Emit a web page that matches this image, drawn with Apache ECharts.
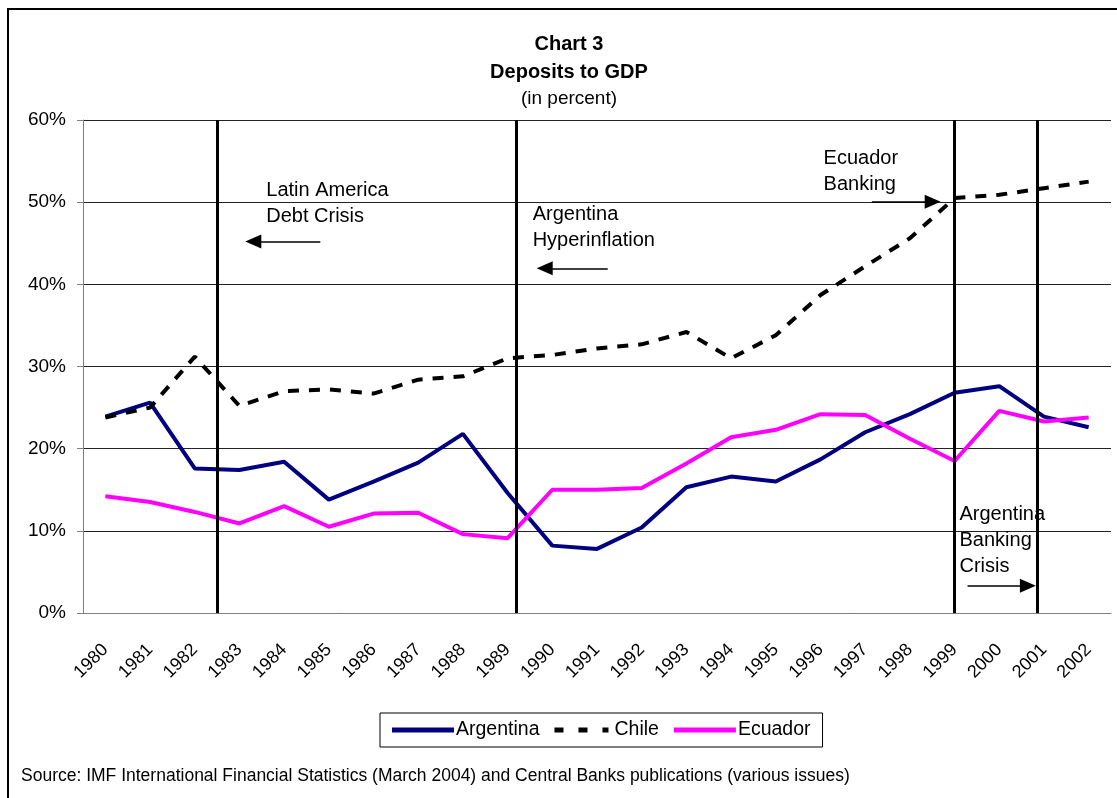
<!DOCTYPE html>
<html>
<head>
<meta charset="utf-8">
<title>Chart 3 - Deposits to GDP</title>
<script src="https://cdn.jsdelivr.net/npm/echarts@6/dist/echarts.min.js"></script>
<style>
  html, body { margin: 0; padding: 0; background: #fff; }
  #chart { width: 1117px; height: 798px; }
</style>
</head>
<body>
<div id="chart"></div>
<script>
// data (percent of GDP)
var years = ['1980', '1981', '1982', '1983', '1984', '1985', '1986', '1987', '1988', '1989', '1990', '1991',
  '1992', '1993', '1994', '1995', '1996', '1997', '1998', '1999', '2000', '2001', '2002'];
var argentina = [23.9, 25.6, 17.6, 17.4, 18.4, 13.8, 16.0, 18.3, 21.8, 14.6, 8.2, 7.8,
  10.4, 15.3, 16.6, 16.0, 18.7, 22.0, 24.2, 26.8, 27.6, 23.9, 22.6];
var chile = [23.8, 25.0, 31.2, 25.2, 27.0, 27.2, 26.7, 28.4, 28.8, 31.0, 31.4, 32.2,
  32.7, 34.2, 31.0, 33.8, 38.7, 42.2, 45.6, 50.5, 50.9, 51.7, 52.5];
var ecuador = [14.2, 13.5, 12.3, 10.9, 13.0, 10.5, 12.1, 12.2, 9.6, 9.1, 15.0, 15.0,
  15.2, 18.2, 21.4, 22.3, 24.2, 24.1, 21.2, 18.5, 24.6, 23.3, 23.8];

// annotations, in category-index units (0 = 1980) and percent
var crisisLines = [2.5, 9.2, 19.0, 20.85];
var notes = [
  [3.6, 53.0, 'Latin America\nDebt Crisis'],
  [9.56, 50.1, 'Argentina\nHyperinflation'],
  [16.07, 56.9, 'Ecuador\nBanking'],
  [19.11, 13.55, 'Argentina\nBanking\nCrisis']
];
// [from, to, level]
var arrows = [
  [4.81, 3.31, 45.2],
  [11.24, 9.83, 41.95],
  [17.15, 18.51, 50.06],
  [19.29, 20.64, 3.33]
];

var font = '"Liberation Sans", Arial, sans-serif';

var myChart = echarts.init(document.getElementById('chart'));

var markData = [];
crisisLines.forEach(function (x) {
  markData.push([
    { coord: [x, 0], symbol: 'none', lineStyle: { width: 3 } },
    { coord: [x, 60], symbol: 'none' }
  ]);
});
arrows.forEach(function (a) {
  markData.push([
    { coord: [a[0], a[2]], symbol: 'none', lineStyle: { width: 1.6 } },
    { coord: [a[1], a[2]], symbol: 'triangle', symbolSize: [14, 16] }
  ]);
});

var lineBase = {
  type: 'line',
  showSymbol: false,
  symbol: 'none',
  silent: true,
  animation: false
};

// legend keys drawn as plain line / dash shapes
var solidKey = 'path://M0,0 L62,0 L62,5 L0,5 Z';
var dashKey = 'path://M0,0 h9 v5 h-9 Z M24,0 h9 v5 h-9 Z M48,0 h6 v5 h-6 Z';

var options = {
  backgroundColor: '#fff',
  animation: false,
  title: {
    text: 'Chart 3\nDeposits to GDP',
    subtext: '(in percent)',
    left: 569,
    top: 30,
    textAlign: 'center',
    itemGap: 1,
    padding: 0,
    textStyle: { fontFamily: font, fontSize: 20, fontWeight: 'bold', color: '#000', lineHeight: 28 },
    subtextStyle: { fontFamily: font, fontSize: 19, color: '#000', lineHeight: 24 }
  },
  legend: {
    data: [
      { name: 'Argentina', icon: solidKey },
      { name: 'Chile', icon: dashKey },
      { name: 'Ecuador', icon: solidKey }
    ],
    left: 380,
    top: 713,
    itemWidth: 62,
    itemHeight: 5,
    itemGap: 15,
    padding: [7, 12, 7, 12],
    borderColor: '#000',
    borderWidth: 1,
    borderRadius: 0,
    selectedMode: false,
    textStyle: { fontFamily: font, fontSize: 19.5, color: '#000', padding: [0, 0, 0, -3] }
  },
  grid: {
    left: 83,
    right: 6,
    top: 120,
    bottom: 185
  },
  xAxis: [
    {
      type: 'category',
      data: years,
      boundaryGap: true,
      axisLine: { lineStyle: { color: '#808080', width: 1 } },
      axisTick: { length: 6, lineStyle: { color: '#808080' } },
      axisLabel: {
        rotate: 45,
        margin: 34,
        interval: 0,
        fontFamily: font,
        fontSize: 18,
        color: '#000'
      },
      splitLine: { show: false }
    },
    {
      type: 'value',
      min: -0.5,
      max: 22.5,
      show: false
    }
  ],
  yAxis: {
    type: 'value',
    min: 0,
    max: 60,
    interval: 10,
    axisLine: { show: true, onZero: false, lineStyle: { color: '#808080' } },
    axisTick: { show: true, length: 6, lineStyle: { color: '#808080' } },
    axisLabel: {
      formatter: '{value}%',
      margin: 17,
      fontFamily: font,
      fontSize: 19,
      color: '#000'
    },
    splitLine: { lineStyle: { color: '#222', width: 1 } }
  },
  series: [
    Object.assign({}, lineBase, {
      name: 'Argentina',
      data: argentina,
      color: '#000080',
      lineStyle: { color: '#000080', width: 4 }
    }),
    Object.assign({}, lineBase, {
      name: 'Chile',
      data: chile,
      color: '#000',
      lineStyle: { color: '#000', width: 4, type: [11, 10], cap: 'butt' }
    }),
    Object.assign({}, lineBase, {
      name: 'Ecuador',
      data: ecuador,
      color: '#ff00ff',
      lineStyle: { color: '#ff00ff', width: 4 }
    }),
    {
      name: 'notes',
      type: 'scatter',
      xAxisIndex: 1,
      yAxisIndex: 0,
      symbolSize: 0,
      silent: true,
      data: notes,
      label: {
        show: true,
        position: [0, 0],
        align: 'left',
        verticalAlign: 'top',
        formatter: function (p) { return p.value[2]; },
        fontFamily: font,
        fontSize: 20,
        lineHeight: 26,
        color: '#000',
        opacity: 1
      },
      markLine: {
        silent: true,
        animation: false,
        symbol: 'none',
        label: { show: false },
        lineStyle: { color: '#000', width: 3, type: 'solid', opacity: 1 },
        emphasis: { disabled: true },
        data: markData
      },
      z: 5
    }
  ],
  graphic: [
    {
      type: 'rect',
      shape: { x: 8, y: 9, width: 1140, height: 820 },
      style: { fill: 'none', stroke: '#000', lineWidth: 2 },
      silent: true
    },
    {
      type: 'text',
      left: 21,
      top: 767,
      style: {
        text: 'Source: IMF International Financial Statistics (March 2004) and Central Banks publications (various issues)',
        font: '17.5px ' + font,
        fill: '#000'
      },
      silent: true
    }
  ]
};

myChart.setOption(options);
</script>
</body>
</html>
